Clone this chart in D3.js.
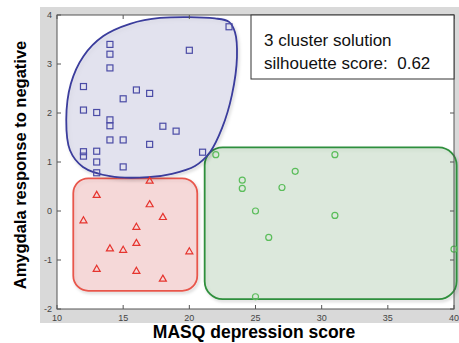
<!DOCTYPE html>
<html>
<head>
<meta charset="utf-8">
<script src="https://cdn.jsdelivr.net/npm/d3@7"></script>
<style>
  body { margin: 0; background: #fff; }
  svg { display: block; font-family: "Liberation Sans", Arial, Helvetica, sans-serif; }
</style>
</head>
<body>
<svg id="chart" width="459" height="343"></svg>
<script>
// cluster 1 (blue squares)
const clusterA = [
  [23, 3.76], [14, 3.4], [14, 3.2], [14, 2.92], [20, 3.28], [12, 2.54],
  [16, 2.47], [15, 2.29], [17, 2.4], [12, 2.06], [13, 2.01], [14, 1.86],
  [14, 1.74], [18, 1.73], [19, 1.63], [14, 1.45], [15, 1.45], [17, 1.36],
  [21, 1.2], [12, 1.21], [12, 1.12], [13, 1.22], [13, 1.0], [15, 0.9], [13, 0.78]
];
// cluster 2 (red triangles)
const clusterB = [
  [17, 0.62], [13, 0.33], [17, 0.14], [18, -0.12], [12, -0.19], [16, -0.32],
  [16, -0.65], [14, -0.76], [15, -0.79], [20, -0.82], [13, -1.18], [16, -1.22], [18, -1.38]
];
// cluster 3 (green circles)
const clusterC = [
  [22, 1.15], [31, 1.15], [28, 0.81], [24, 0.63], [24, 0.46], [27, 0.48],
  [25, 0.0], [31, -0.09], [26, -0.54], [40, -0.78], [25, -1.75]
];

// outlines drawn around the clusters (data units)
const blobA = [
  [17.78, 3.94], [21.94, 3.93], [23.0, 3.86], [23.45, 3.65], [23.6, 3.14],
  [23.22, 2.37], [22.47, 1.69], [21.56, 1.2], [20.43, 0.92], [18.69, 0.76],
  [16.88, 0.69], [14.0, 0.71], [11.96, 0.9], [10.98, 1.24], [10.7, 1.86],
  [11.05, 2.6], [12.0, 3.16], [13.5, 3.57], [15.52, 3.82]
];
const boxB = [11.23, 20.6, 0.667, -1.63];   // x0, x1, y0, y1
const boxC = [21.16, 40.2, 1.3, -1.8];

const xTicks = [10, 15, 20, 25, 30, 35, 40];
const yTicks = [-2, -1, 0, 1, 2, 3, 4];

const legendLines = ['3 cluster solution', 'silhouette score:  0.62'];

/**
 * Set stuff up.
 */
const svg = d3.select('#chart');
const plotL = 57, plotR = 454, plotT = 15, plotB = 309;

const x = d3.scaleLinear().domain([10, 40]).range([plotL, plotR]);
const y = d3.scaleLinear().domain([-2, 4]).range([plotB, plotT]);

// grey figure background + white axes
svg.append('rect')
    .attr('x', 40).attr('y', 7)
    .attr('width', 419).attr('height', 316)
    .attr('fill', '#d9d9d9');
svg.append('rect')
    .attr('x', plotL).attr('y', plotT)
    .attr('width', plotR - plotL).attr('height', plotB - plotT)
    .attr('fill', '#fff');

const defs = svg.append('defs');
const shadow = defs.append('filter').attr('id', 'shadow')
    .attr('x', '-10%').attr('y', '-10%').attr('width', '130%').attr('height', '130%');
shadow.append('feDropShadow')
    .attr('dx', 1.5).attr('dy', 2).attr('stdDeviation', 1.5)
    .attr('flood-color', '#000').attr('flood-opacity', 0.18);

/**
 * Cluster shapes.
 */
function roundBox(b, r, fill, stroke) {
    svg.append('rect')
        .attr('x', x(b[0])).attr('y', y(b[2]))
        .attr('width', x(b[1]) - x(b[0]))
        .attr('height', y(b[3]) - y(b[2]))
        .attr('rx', r).attr('ry', r)
        .attr('fill', fill)
        .attr('stroke', stroke)
        .attr('stroke-width', 1.8)
        .attr('filter', 'url(#shadow)');
}
roundBox(boxB, 15, 'rgba(240,150,150,0.3)', '#e8574c');
roundBox(boxC, 18, 'rgba(150,195,150,0.28)', '#2f8f3c');

svg.append('path')
    .datum(blobA)
    .attr('d', d3.line()
        .x(d => x(d[0]))
        .y(d => y(d[1]))
        .curve(d3.curveCatmullRomClosed.alpha(0.5)))
    .attr('fill', 'rgba(185,185,220,0.33)')
    .attr('stroke', '#3a3c9c')
    .attr('stroke-width', 1.8)
    .attr('filter', 'url(#shadow)');

/**
 * Markers.
 */
svg.append('g').selectAll('rect')
    .data(clusterA).enter().append('rect')
    .attr('x', d => x(d[0]) - 3).attr('y', d => y(d[1]) - 3)
    .attr('width', 6).attr('height', 6)
    .attr('fill', 'none').attr('stroke', '#4b4ca6').attr('stroke-width', 1.2);

svg.append('g').selectAll('path')
    .data(clusterB).enter().append('path')
    .attr('transform', d => `translate(${x(d[0])},${y(d[1])})`)
    .attr('d', 'M0,-3.5L3.5,2.6L-3.5,2.6Z')
    .attr('fill', 'none').attr('stroke', '#e6342e').attr('stroke-width', 1.2);

svg.append('g').selectAll('circle')
    .data(clusterC).enter().append('circle')
    .attr('cx', d => x(d[0])).attr('cy', d => y(d[1]))
    .attr('r', 3)
    .attr('fill', 'none').attr('stroke', '#5bbd5b').attr('stroke-width', 1.2);

/**
 * Axes, MATLAB style: box with inward ticks.
 */
const tick = 4;
const axisColor = '#555';
const frame = svg.append('g').attr('stroke', axisColor).attr('stroke-width', 1);
frame.append('rect')
    .attr('x', plotL).attr('y', plotT)
    .attr('width', plotR - plotL).attr('height', plotB - plotT)
    .attr('fill', 'none');
xTicks.forEach(t => {
    frame.append('line').attr('x1', x(t)).attr('x2', x(t)).attr('y1', plotB).attr('y2', plotB - tick);
    frame.append('line').attr('x1', x(t)).attr('x2', x(t)).attr('y1', plotT).attr('y2', plotT + tick);
});
yTicks.forEach(t => {
    frame.append('line').attr('x1', plotL).attr('x2', plotL + tick).attr('y1', y(t)).attr('y2', y(t));
    frame.append('line').attr('x1', plotR).attr('x2', plotR - tick).attr('y1', y(t)).attr('y2', y(t));
});

svg.append('g').selectAll('text')
    .data(xTicks).enter().append('text')
    .attr('x', d => x(d)).attr('y', plotB + 12)
    .attr('text-anchor', 'middle')
    .attr('font-size', 9).attr('fill', '#444')
    .text(d => d);

svg.append('g').selectAll('text')
    .data(yTicks).enter().append('text')
    .attr('x', plotL - 5).attr('y', d => y(d) + 3)
    .attr('text-anchor', 'end')
    .attr('font-size', 9).attr('fill', '#444')
    .text(d => d);

svg.append('text')
    .attr('x', 254).attr('y', 338)
    .attr('text-anchor', 'middle')
    .attr('font-size', 17.5).attr('font-weight', 'bold')
    .text('MASQ depression score');

svg.append('text')
    .attr('transform', 'translate(26,165) rotate(-90)')
    .attr('text-anchor', 'middle')
    .attr('font-size', 16.5).attr('font-weight', 'bold')
    .text('Amygdala response to negative');

/**
 * Legend box.
 */
svg.append('rect')
    .attr('x', 251).attr('y', plotT)
    .attr('width', plotR - 251).attr('height', 79 - plotT)
    .attr('fill', '#fff').attr('stroke', '#333').attr('stroke-width', 1);

svg.append('g').selectAll('text')
    .data(legendLines).enter().append('text')
    .attr('x', 264).attr('y', (d, i) => 46 + i * 23)
    .attr('font-size', 17).attr('fill', '#111')
    .style('white-space', 'pre')
    .text(d => d);
</script>
</body>
</html>
